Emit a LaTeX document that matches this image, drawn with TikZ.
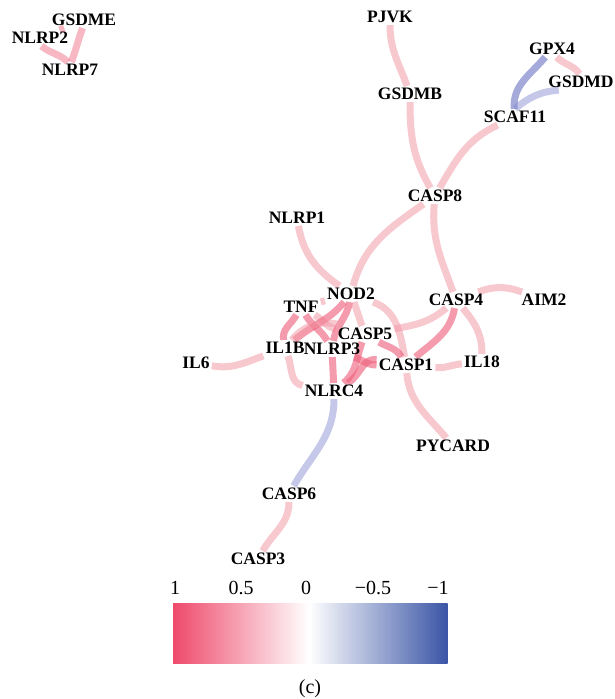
\documentclass[tikz,border=0pt]{standalone}
\usepackage{fontspec}
\setmainfont{Liberation Serif}
\usetikzlibrary{backgrounds}
\definecolor{posline}{HTML}{F39AA8}
\definecolor{posstrong}{HTML}{EE5F7A}
\definecolor{negline}{HTML}{7F86CC}
\definecolor{barred}{HTML}{EE4A6C}
\definecolor{barblue}{HTML}{3A55A6}
\begin{document}
\begin{tikzpicture}[x=1pt, y=1pt,
    gene/.style={font=\fontsize{17.5}{18}\selectfont\bfseries, inner sep=2pt},
    posedge/.style={draw=posline, line width=7pt, opacity=0.55},
    strongedge/.style={draw=posstrong, line width=7pt, opacity=0.62},
    midedge/.style={draw=posstrong, line width=7pt, opacity=0.45},
    negedge/.style={draw=negline, line width=7pt, opacity=0.7},
    weaknegedge/.style={draw=negline, line width=7pt, opacity=0.45},
    tick/.style={font=\fontsize{20}{20}\selectfont, inner sep=0pt}]
    \useasboundingbox (0,-699) rectangle (614,0);

    % genes
    \node [gene] (gsdme) at (84,-20) {GSDME};
    \node [gene] (nlrp2) at (40,-38) {NLRP2};
    \node [gene] (nlrp7) at (70,-70) {NLRP7};
    \node [gene] (pjvk) at (390,-17) {PJVK};
    \node [gene] (gpx4) at (552,-49) {GPX4};
    \node [gene] (gsdmd) at (581,-82) {GSDMD};
    \node [gene] (gsdmb) at (410,-94) {GSDMB};
    \node [gene] (scaf11) at (515,-117) {SCAF11};
    \node [gene] (casp8) at (435,-196) {CASP8};
    \node [gene] (nlrp1) at (297,-218) {NLRP1};
    \node [gene] (nod2) at (351,-294) {NOD2};
    \node [gene] (casp4) at (456,-300) {CASP4};
    \node [gene] (aim2) at (544,-300) {AIM2};
    \node [gene] (tnf) at (301,-307) {TNF};
    \node [gene] (casp5) at (365,-334) {CASP5};
    \node [gene] (il1b) at (285,-348) {IL1B};
    \node [gene] (nlrp3) at (332,-349) {NLRP3};
    \node [gene] (il6) at (196,-363) {IL6};
    \node [gene] (casp1) at (406,-365) {CASP1};
    \node [gene] (il18) at (482,-362) {IL18};
    \node [gene] (nlrc4) at (334,-391) {NLRC4};
    \node [gene] (pycard) at (453,-446) {PYCARD};
    \node [gene] (casp6) at (289,-494) {CASP6};
    \node [gene] (casp3) at (258,-559) {CASP3};

    \begin{pgfonlayer}{background}
        % outer edges
        \draw [midedge] (nlrp2.-80) to[out=-40, in=135] (nlrp7.105);
        \draw [midedge] (gsdme.-100) to[out=-110, in=70] (nlrp7.80);
        \draw [midedge] (nlrp2) -- (gsdme);
        \draw [posedge] (pjvk) to[out=-90, in=110] (gsdmb);
        \draw [posedge] (gsdmb) to[out=-90, in=120] (casp8);
        \draw [posedge] (scaf11) to[out=205, in=60] (casp8);
        \draw [negedge] (gpx4) to[out=-130, in=95] (scaf11);
        \draw [weaknegedge] (gsdmd.200) to[out=185, in=40] (scaf11.north);
        \draw [posedge] (gpx4.-60) to[out=-45, in=125] (gsdmd.100);
        \draw [posedge] (casp8) to[out=-145, in=75] (nod2);
        \draw [posedge] (casp8) to[out=-95, in=110] (casp4);
        \draw [posedge] (nlrp1) to[out=-80, in=145] (nod2);
        \draw [posedge] (casp4) to[out=20, in=160] (aim2);
        \draw [posedge] (casp4) to[out=-50, in=90] (il18);
        \draw [posedge] (casp1) to[out=-5, in=185] (il18);
        \draw [posedge] (casp1) to[out=-85, in=130] (pycard);
        \draw [posedge] (il6) to[out=-10, in=200] (il1b);
        \draw [weaknegedge] (nlrc4) to[out=-90, in=60] (casp6);
        \draw [posedge] (casp6) to[out=-90, in=60] (casp3);
        % inflammasome core
        \draw [strongedge] (casp4) to[out=-100, in=40] (casp1);
        \draw [posedge] (casp4) to[out=-140, in=10] (casp5);
        \draw [strongedge] (casp1) to[out=170, in=30] (nlrc4);
        \draw [strongedge] (tnf) to[out=-120, in=100] (il1b);
        \draw [strongedge] (tnf) to[out=-60, in=120] (nlrp3);
        \draw [posedge] (tnf) to[out=-30, in=170] (casp5);
        \draw [posedge] (tnf) -- (nod2);
        \draw [strongedge] (nod2) to[out=-130, in=40] (il1b);
        \draw [strongedge] (nod2) to[out=-100, in=80] (nlrp3);
        \draw [posedge] (nod2) to[out=-70, in=110] (casp5);
        \draw [posedge] (nod2) to[out=-20, in=100] (casp1);
        \draw [posedge] (il1b) to[out=-70, in=170] (nlrc4);
        \draw [posedge] (il1b) to[out=50, in=160] (casp5);
        \draw [strongedge] (nlrp3) -- (nlrc4);
        \draw [strongedge] (nlrc4) to[out=40, in=-110] (casp5);
        \draw [strongedge] (nlrp3) to[out=-20, in=180] (casp1);
        \draw [strongedge] (casp5) to[out=-30, in=120] (casp1);
    \end{pgfonlayer}

    % colour key
    \shade [left color=barred, right color=white] (173,-603) rectangle (309,-663);
    \shade [left color=white, right color=barblue] (309,-603) rectangle (447.5,-663);
    \node [tick] (k1) at (175,-588) {1};
    \node [tick] (k2) at (241,-588) {0.5};
    \node [tick] (k3) at (306,-588) {0};
    \node [tick] (k4) at (373,-588) {−0.5};
    \node [tick] (k5) at (438,-588) {−1};
    \node [tick] (cap) at (310,-689) {(c)};
\end{tikzpicture}
\end{document}
